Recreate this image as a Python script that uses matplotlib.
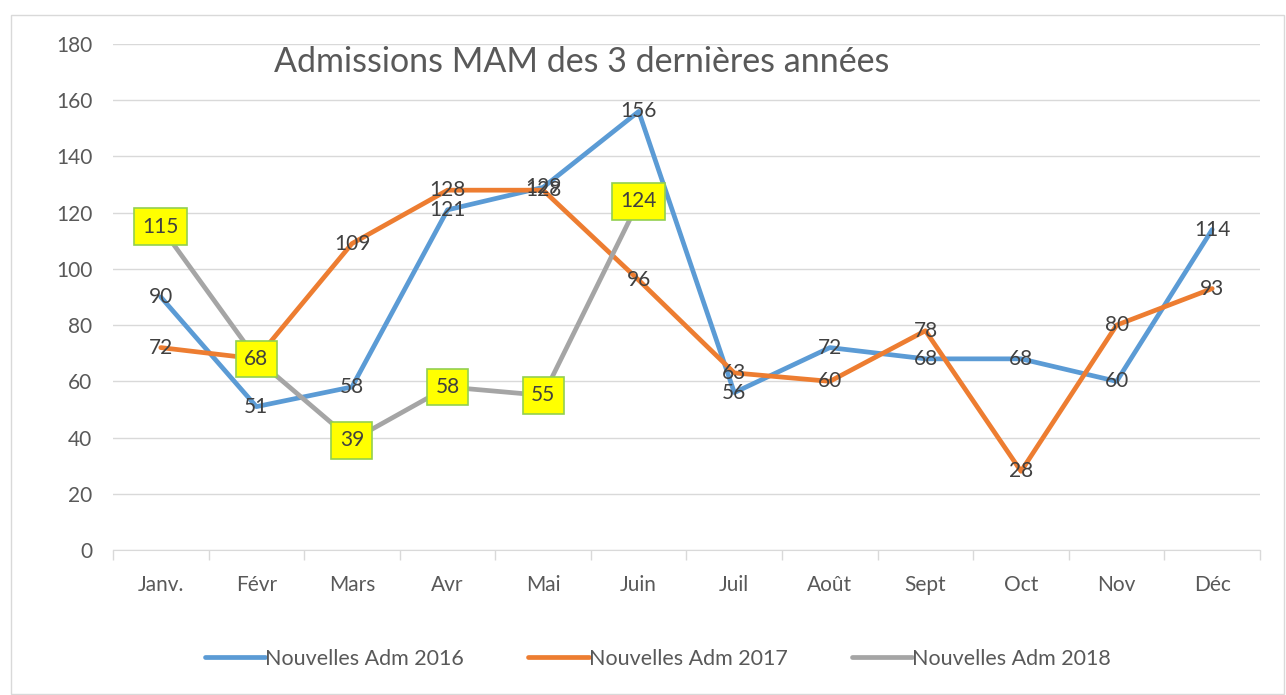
import matplotlib.pyplot as plt
from matplotlib.patches import Rectangle

plt.rcParams['font.family'] = ['Lato', 'DejaVu Sans']

# --- data ---
mois = ["Janv.", "Févr", "Mars", "Avr", "Mai", "Juin", "Juil", "Août", "Sept", "Oct", "Nov", "Déc"]
adm_2016 = [90, 51, 58, 121, 129, 156, 56, 72, 68, 68, 60, 114]
adm_2017 = [72, 68, 109, 128, 128, 96, 63, 60, 78, 28, 80, 93]
adm_2018 = [115, 68, 39, 58, 55, 124]

series = [
    ("Nouvelles Adm 2016", adm_2016, "#5B9BD5"),
    ("Nouvelles Adm 2017", adm_2017, "#ED7D31"),
    ("Nouvelles Adm 2018", adm_2018, "#A5A5A5"),
]

fig = plt.figure(figsize=(12.86, 6.95), dpi=100)
# outer chart frame
fig.patches.append(Rectangle((11 / 1286, 0.002), 1273 / 1286, 1 - 15 / 695 - 0.002,
                             transform=fig.transFigure, fill=False,
                             edgecolor="#D9D9D9", linewidth=1))

ax = fig.add_axes([113 / 1286, 1 - 550 / 695, (1260 - 113) / 1286, (550 - 44) / 695])

x = list(range(len(mois)))
for name, vals, col in series:
    ax.plot(x[:len(vals)], vals, color=col, linewidth=3.4, label=name, solid_capstyle="round", zorder=3)

# data labels
txt = dict(fontsize=15, color="#404040", ha="center", va="center", zorder=5)
for i, v in enumerate(adm_2016):
    ax.text(i, v, str(v), **txt)
for i, v in enumerate(adm_2017):
    ax.text(i, v, str(v), **txt)
for i, v in enumerate(adm_2018):
    ax.text(i, v, str(v), bbox=dict(boxstyle="square,pad=0.4", facecolor="#FFFF00",
                                    edgecolor="#92D050", linewidth=1.2), **txt)

ax.set_ylim(0, 180)
ax.set_yticks(range(0, 181, 20))
ax.set_xlim(-0.5, 11.5)
ax.set_xticks(x)
ax.set_xticklabels(mois)
ax.set_xticks([i - 0.5 for i in range(13)], minor=True)
ax.tick_params(axis="x", which="major", length=0, pad=18, labelsize=15, labelcolor="#595959")
ax.tick_params(axis="x", which="minor", length=7, color="#D9D9D9", width=1)
ax.tick_params(axis="y", length=0, pad=15, labelsize=15, labelcolor="#595959")
ax.grid(axis="y", color="#D9D9D9", linewidth=1)
ax.set_axisbelow(True)
for s in ["top", "right", "left"]:
    ax.spines[s].set_visible(False)
ax.spines["bottom"].set_color("#D9D9D9")

# title in figure pixel position
fig.text(582 / 1286, 1 - 62 / 695, "Admissions MAM des 3 dernières années", fontsize=24.5,
         color="#595959", ha="center", va="center")

fig.legend(loc="center", bbox_to_anchor=(658 / 1286, 1 - 659 / 695), ncol=3, frameon=False,
           fontsize=15.5, handlelength=2.8, handletextpad=0.0, columnspacing=3.0,
           labelcolor="#595959")

fig.savefig("out.png", dpi=100)
